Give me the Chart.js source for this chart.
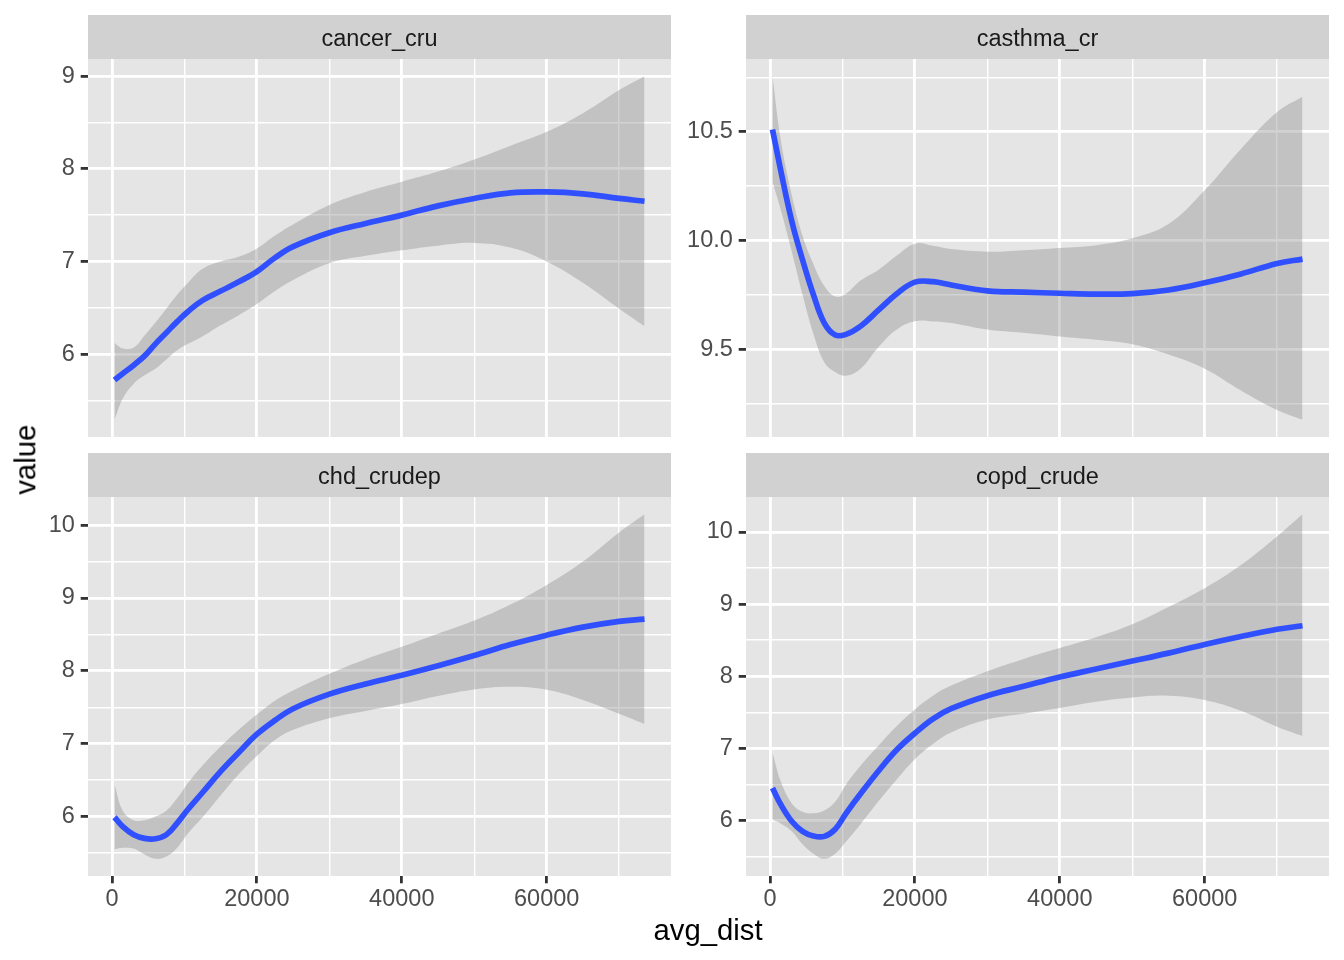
<!DOCTYPE html>
<html>
<head>
<meta charset="utf-8">
<script src="https://cdn.jsdelivr.net/npm/chart.js@4"></script>
<style>
  body { margin: 0; background: #fff; width: 1344px; height: 960px; position: relative; overflow: hidden; }
  canvas { position: absolute; }
  .axtitle { position: absolute; font-family: "Liberation Sans", Arial, sans-serif; font-size: 29.3px; line-height: 29.3px; color: #000; white-space: nowrap; text-align: center; }
</style>
</head>
<body>
<canvas id="c1" width="672" height="438" style="left:0;top:0"></canvas>
<canvas id="c2" width="672" height="438" style="left:672px;top:0"></canvas>
<canvas id="c3" width="672" height="522" style="left:0;top:438px"></canvas>
<canvas id="c4" width="672" height="522" style="left:672px;top:438px"></canvas>
<div class="axtitle" style="left:608px;top:915px;width:200px;">avg_dist</div>
<div class="axtitle" style="left:-75px;top:445px;width:200px;transform:rotate(-90deg);">value</div>
<script>
// x positions where the smooths were read
const avgDist = [350, 1500, 3000, 4500, 6000, 7500, 9000, 10500, 12500, 15000, 17500, 20000,
  22500, 25000, 30000, 35000, 40000, 45000, 50000, 55000, 60000, 65000, 70000, 73500];

// cancer_cru
const cancerFit = [5.72, 5.79, 5.88, 5.98, 6.11, 6.23, 6.35, 6.46, 6.58, 6.68, 6.78, 6.89,
  7.04, 7.16, 7.31, 7.41, 7.50, 7.60, 7.68, 7.74, 7.75, 7.73, 7.68, 7.65];
const cancerHi = [6.12, 6.06, 6.07, 6.20, 6.34, 6.49, 6.64, 6.77, 6.92, 7.00, 7.05, 7.14,
  7.28, 7.40, 7.61, 7.75, 7.86, 7.97, 8.10, 8.25, 8.40, 8.60, 8.85, 9.00];
const cancerLo = [5.29, 5.52, 5.68, 5.77, 5.84, 5.94, 6.04, 6.11, 6.19, 6.31, 6.42, 6.54,
  6.68, 6.80, 6.98, 7.06, 7.12, 7.17, 7.20, 7.15, 7.00, 6.77, 6.49, 6.30];

// casthma_cr
const asthmaFit = [10.51, 10.32, 10.09, 9.91, 9.75, 9.62, 9.565, 9.568, 9.605, 9.68, 9.755, 9.808,
  9.81, 9.795, 9.768, 9.762, 9.757, 9.753, 9.755, 9.772, 9.805, 9.846, 9.894, 9.914];
const asthmaHi = [10.755, 10.46, 10.21, 10.02, 9.89, 9.79, 9.742, 9.755, 9.815, 9.865, 9.93, 9.985,
  9.975, 9.96, 9.948, 9.955, 9.965, 9.978, 10.01, 10.075, 10.23, 10.42, 10.59, 10.66];
const asthmaLo = [10.27, 10.14, 9.95, 9.75, 9.57, 9.44, 9.395, 9.378, 9.41, 9.51, 9.59, 9.628,
  9.627, 9.62, 9.59, 9.575, 9.558, 9.543, 9.522, 9.475, 9.41, 9.31, 9.22, 9.175];

// chd_crudep
const chdFit = [5.99, 5.86, 5.75, 5.70, 5.695, 5.75, 5.91, 6.10, 6.33, 6.62, 6.88, 7.13,
  7.32, 7.48, 7.68, 7.82, 7.94, 8.07, 8.21, 8.36, 8.49, 8.60, 8.68, 8.71];
const chdHi = [6.44, 6.08, 5.95, 5.95, 6.00, 6.08, 6.25, 6.46, 6.70, 6.96, 7.19, 7.40,
  7.59, 7.73, 7.96, 8.16, 8.33, 8.51, 8.69, 8.91, 9.18, 9.50, 9.90, 10.15];
const chdLo = [5.55, 5.57, 5.56, 5.48, 5.42, 5.45, 5.57, 5.77, 5.99, 6.29, 6.58, 6.83,
  7.05, 7.19, 7.35, 7.45, 7.545, 7.655, 7.745, 7.78, 7.74, 7.60, 7.41, 7.27];

// copd_crude
const copdFit = [6.45, 6.22, 5.99, 5.85, 5.785, 5.78, 5.88, 6.10, 6.37, 6.69, 6.98, 7.21,
  7.41, 7.55, 7.73, 7.86, 7.99, 8.10, 8.21, 8.32, 8.44, 8.55, 8.65, 8.70];
const copdHi = [6.94, 6.54, 6.24, 6.12, 6.10, 6.14, 6.26, 6.50, 6.76, 7.04, 7.31, 7.54,
  7.73, 7.87, 8.07, 8.24, 8.39, 8.54, 8.72, 8.96, 9.22, 9.54, 9.94, 10.245];
const copdLo = [6.01, 5.96, 5.85, 5.67, 5.54, 5.47, 5.54, 5.71, 5.95, 6.27, 6.57, 6.85,
  7.06, 7.22, 7.40, 7.48, 7.56, 7.645, 7.705, 7.73, 7.67, 7.52, 7.30, 7.17];

// tick labels
const distTicks = [0, 20000, 40000, 60000];
const cancerTicks = [6, 7, 8, 9];
const asthmaTicks = [9.5, 10.0, 10.5];
const chdTicks = [6, 7, 8, 9, 10];
const copdTicks = [6, 7, 8, 9, 10];

const FONT = '"Liberation Sans", Arial, sans-serif';

// ggplot-style limits: data range plus 5% each side
function expand(lo, hi) {
  const a = Math.min(...lo), b = Math.max(...hi), d = (b - a) * 0.05;
  return [a - d, b + d];
}
// majors plus midpoints between them (minor grid)
function withMinor(major, min, max) {
  const step = major[1] - major[0];
  const out = [];
  for (let v = major[0] - step; v <= major[major.length - 1] + step + 1e-9; v += step / 2) {
    if (v >= min && v <= max) out.push(+v.toFixed(6));
  }
  return out;
}
const isMajor = (major, v) => major.some(m => Math.abs(m - v) < 1e-6);

const xLim = expand(avgDist, avgDist);

const panelPlugin = {
  id: 'panel',
  beforeDraw(chart, args, opts) {
    const { ctx, chartArea: a } = chart;
    ctx.save();
    ctx.fillStyle = '#E5E5E5';
    ctx.fillRect(a.left, a.top, a.right - a.left, a.bottom - a.top);
    ctx.fillStyle = '#D1D1D1';
    ctx.fillRect(a.left, a.top - 44, a.right - a.left, 44);
    ctx.fillStyle = '#1A1A1A';
    ctx.font = '23.5px ' + FONT;
    ctx.textAlign = 'center';
    ctx.textBaseline = 'middle';
    ctx.fillText(opts.label, (a.left + a.right) / 2, a.top - 19);
    ctx.restore();
  }
};

function gridOpts(major) {
  return {
    color: '#FFFFFF',
    lineWidth: c => isMajor(major, c.tick.value) ? 2.8 : 1.4,
    tickColor: c => isMajor(major, c.tick.value) ? '#333333' : 'rgba(0,0,0,0)',
    tickWidth: 2.8,
    tickLength: 7.3
  };
}

function makePanel(id, label, fit, lo, hi, yMajor, yFmt, yWidth, padRight, bottomRow) {
  const pts = arr => avgDist.map((x, i) => ({ x: x, y: arr[i] }));
  const yLim = expand(lo, hi);
  const yAll = withMinor(yMajor, yLim[0], yLim[1]);
  const xAll = withMinor(distTicks, xLim[0], xLim[1]);
  const tickFont = { family: FONT, size: 23.5 };

  new Chart(document.getElementById(id), {
    type: 'line',
    data: {
      datasets: [
        { data: pts(lo), borderWidth: 0, pointRadius: 0, fill: false, tension: 0.4, order: 2 },
        { data: pts(hi), borderWidth: 0, pointRadius: 0, fill: '-1', tension: 0.4, order: 1,
          backgroundColor: 'rgba(143,143,143,0.4)' },
        { data: pts(fit), borderColor: '#3050FF', borderWidth: 5.7, pointRadius: 0, fill: false,
          borderCapStyle: 'butt', tension: 0.4, order: 0 }
      ]
    },
    options: {
      responsive: false,
      animation: false,
      devicePixelRatio: 1,
      events: [],
      layout: { padding: { top: 59, right: padRight, left: 0, bottom: 0 } },
      plugins: { legend: { display: false }, tooltip: { enabled: false }, panel: { label: label } },
      scales: {
        x: {
          type: 'linear', min: xLim[0], max: xLim[1],
          afterBuildTicks: s => { s.ticks = xAll.map(v => ({ value: v })); },
          afterFit: s => { s.height = bottomRow ? 84 : 1; s.paddingLeft = 0; s.paddingRight = 0; },
          border: { display: false },
          grid: Object.assign(gridOpts(distTicks), { drawTicks: bottomRow }),
          ticks: {
            display: bottomRow, autoSkip: false, maxRotation: 0, padding: 2,
            color: '#4D4D4D', font: tickFont,
            callback: v => isMajor(distTicks, v) ? String(v) : ''
          }
        },
        y: {
          type: 'linear', min: yLim[0], max: yLim[1],
          afterBuildTicks: s => { s.ticks = yAll.map(v => ({ value: v })); },
          afterFit: s => { s.width = yWidth; s.paddingTop = 0; s.paddingBottom = 0; },
          border: { display: false },
          grid: gridOpts(yMajor),
          ticks: {
            autoSkip: false, padding: 5.9, color: '#4D4D4D', font: tickFont,
            callback: v => isMajor(yMajor, v) ? yFmt(v) : ''
          }
        }
      }
    },
    plugins: [panelPlugin]
  });
}

makePanel('c1', 'cancer_cru', cancerFit, cancerLo, cancerHi, cancerTicks, v => String(v), 88, 1, false);
makePanel('c2', 'casthma_cr', asthmaFit, asthmaLo, asthmaHi, asthmaTicks, v => v.toFixed(1), 74, 15, false);
makePanel('c3', 'chd_crudep', chdFit, chdLo, chdHi, chdTicks, v => String(v), 88, 1, true);
makePanel('c4', 'copd_crude', copdFit, copdLo, copdHi, copdTicks, v => String(v), 74, 15, true);
</script>
</body>
</html>
